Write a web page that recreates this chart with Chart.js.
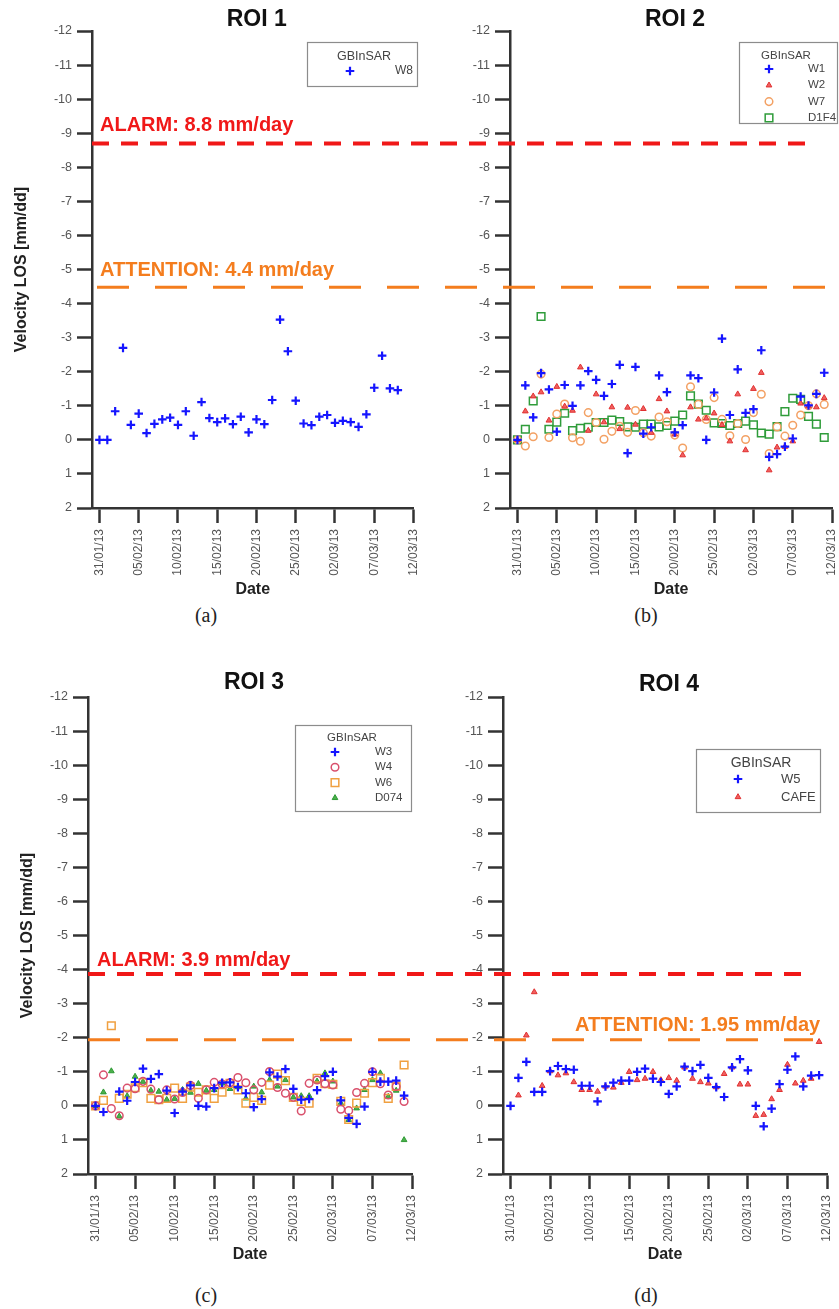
<!DOCTYPE html>
<html>
<head>
<meta charset="utf-8">
<script src="https://cdn.jsdelivr.net/npm/chart.js@4.4.1/dist/chart.umd.min.js"></script>
<style>
  html, body { margin: 0; padding: 0; background: #fff; }
  #page { position: relative; width: 839px; height: 1309px; overflow: hidden; background: #fff; }
  canvas { position: absolute; }
  .cap { position: absolute; font-family: "Liberation Serif", "DejaVu Serif", serif; font-size: 20px; color: #222;
         transform: translate(-50%, -50%); }
</style>
</head>
<body>
<div id="page">
  <canvas id="roi1" width="420" height="600" style="left:0;top:0"></canvas>
  <canvas id="roi2" width="419" height="600" style="left:420px;top:0"></canvas>
  <canvas id="roi3" width="420" height="620" style="left:0;top:650px"></canvas>
  <canvas id="roi4" width="419" height="620" style="left:420px;top:650px"></canvas>
  <div class="cap" style="left:206px;top:615px">(a)</div>
  <div class="cap" style="left:646px;top:615px">(b)</div>
  <div class="cap" style="left:206px;top:1295px">(c)</div>
  <div class="cap" style="left:646px;top:1295px">(d)</div>
</div>
<script>
// giorni dal 31/01/13 e relative etichette
const tickDays = [0, 5, 10, 15, 20, 25, 30, 35, 40];
const dateLabels = ["31/01/13", "05/02/13", "10/02/13", "15/02/13", "20/02/13",
                    "25/02/13", "02/03/13", "07/03/13", "12/03/13"];

// ROI 1
const roi1W8 = [0.0, 0.0, -0.84, -2.70, -0.44, -0.77, -0.20, -0.47, -0.60, -0.65,
                -0.44, -0.84, -0.12, -1.11, -0.64, -0.52, -0.63, -0.46, -0.68, -0.22,
                -0.60, -0.46, -1.17, -3.53, -2.60, -1.15, -0.48, -0.43, -0.68, -0.73,
                -0.50, -0.56, -0.52, -0.38, -0.75, -1.53, -2.47, -1.51, -1.46];

// ROI 2
const roi2W1 = [0.0, -1.60, -0.66, -1.96, -1.48, -0.24, -1.61, -1.00, -1.60, -2.02,
                -1.76, -1.29, -1.64, -2.20, 0.39, -2.14, -0.18, -0.37, -1.89, -1.40,
                -0.22, -0.43, -1.89, -1.81, 0.0, -1.39, -2.97, -0.73, -2.07, -0.79,
                -0.90, -2.63, 0.50, 0.42, 0.20, -0.04, -1.27, -1.01, -1.35, -1.97];
const roi2W2 = [0.0, -0.84, -1.28, -1.40, -0.57, -1.56, -0.98, -0.86, -2.13, -0.27,
                -1.34, -0.52, -0.96, -0.32, -0.95, -0.45, -0.91, -0.21, -1.20, -0.84,
                -0.16, 0.45, -0.96, -0.60, -0.63, -0.78, -0.44, 0.04, -1.34, 0.30,
                -1.50, -1.97, 0.89, 0.22, 0.20, 0.04, -1.07, -0.99, -0.96, -1.23];
const roi2W7 = [0.0, 0.18, -0.09, -1.93, -0.07, -0.76, -1.05, -0.06, 0.04, -0.80,
                -0.51, -0.02, -0.25, -0.40, -0.22, -0.86, -0.21, -0.11, -0.67, -0.53,
                -0.14, 0.24, -1.56, -1.04, -0.60, -1.24, -0.60, -0.12, -0.48, -0.01,
                -0.80, -1.34, 0.40, -0.38, -0.11, -0.43, -0.73, -1.00, -1.35, -1.04];
const roi2D1F4 = [0.0, -0.31, -1.14, -3.62, -0.31, -0.52, -0.78, -0.27, -0.34, -0.37,
                  -0.51, -0.51, -0.58, -0.54, -0.38, -0.37, -0.46, -0.46, -0.38, -0.42,
                  -0.55, -0.73, -1.29, -1.05, -0.87, -0.50, -0.48, -0.42, -0.48, -0.55,
                  -0.44, -0.20, -0.17, -0.39, -0.83, -1.22, -1.19, -0.69, -0.46, -0.07];

// ROI 3
const roi3W3 = [0.0, 0.18, null, -0.42, -0.15, -0.70, -1.09, -0.79, -0.93, -0.45,
                0.21, -0.42, -0.60, 0.0, 0.02, -0.52, -0.68, -0.69, -0.55, -0.37,
                0.04, -0.20, -0.98, -0.86, -1.08, -0.50, -0.18, -0.20, -0.46, -0.87,
                -1.00, -0.16, 0.35, 0.53, 0.02, -1.00, -0.71, -0.71, -0.74, -0.30];
const roi3W4 = [0.0, -0.91, 0.08, 0.29, -0.52, -0.50, -0.72, -0.49, -0.18, -0.47,
                -0.20, -0.39, -0.60, -0.22, -0.47, -0.69, -0.64, -0.68, -0.83, -0.68,
                -0.47, -0.69, -1.01, -0.54, -0.37, -0.25, 0.15, -0.66, -0.76, -0.65,
                -0.61, 0.10, 0.14, -0.39, -0.66, -1.00, -0.65, -0.32, -0.57, -0.13];
const roi3W6 = [0.0, -0.16, -2.35, -0.22, -0.34, -0.53, -0.68, -0.22, -0.18, -0.22,
                -0.52, -0.22, -0.55, -0.40, -0.47, -0.22, -0.40, -0.66, -0.47, -0.08,
                -0.25, -0.16, -0.61, -0.93, -0.74, -0.25, -0.13, -0.08, -0.81, -0.65,
                -0.63, -0.13, 0.40, -0.08, -0.37, -0.68, -0.81, -0.22, -0.57, -1.20];
const roi3D074 = [0.0, -0.40, -1.02, 0.31, -0.29, -0.86, -0.71, -0.45, -0.42, -0.18,
                  -0.21, -0.47, -0.39, -0.65, -0.45, -0.47, -0.66, -0.50, -0.55, -0.22,
                  -0.57, -0.40, -0.76, -0.57, -0.76, -0.25, -0.29, -0.29, -0.72, -0.96,
                  -0.72, -0.08, 0.41, 0.07, -0.47, -0.76, -0.96, -0.27, -0.45, 1.00];

// ROI 4
const roi4W5 = [0.0, -0.82, -1.29, -0.41, -0.41, -1.02, -1.17, -1.08, -1.06, -0.59,
                -0.59, -0.13, -0.57, -0.68, -0.74, -0.74, -1.00, -1.09, -0.80, -0.70,
                -0.35, -0.57, -1.15, -1.02, -1.20, -0.82, -0.55, -0.26, -1.13, -1.37,
                -1.04, 0.0, 0.60, 0.08, -0.64, -1.06, -1.45, -0.57, -0.89, -0.90];
const roi4CAFE = [null, -0.31, -2.07, -3.34, -0.59, -1.02, -0.90, -0.96, -0.70, -0.47,
                  -0.47, -0.42, -0.57, -0.54, -0.68, -1.00, -0.76, -0.80, -1.00, -0.76,
                  -0.82, -0.74, -1.13, -0.80, -0.70, -0.66, -0.55, -0.94, -1.13, -0.63,
                  -0.63, 0.29, 0.26, -0.20, -0.47, -1.21, -0.66, -0.74, -0.80, -1.88];

// soglie
const alarmRoi12 = -8.7, attentionRoi12 = -4.48;
const alarmRoi34 = -3.87, attentionRoi34 = -1.94;
const alarmText12 = "ALARM: 8.8 mm/day", attentionText12 = "ATTENTION: 4.4 mm/day";
const alarmText34 = "ALARM: 3.9 mm/day", attentionText34 = "ATTENTION: 1.95 mm/day";
const legendTitle = "GBInSAR";

const FONT = '"Liberation Sans", Arial, Helvetica, sans-serif';
Chart.defaults.font.family = FONT;

const RED = "#f01818", ORANGE = "#f47d1e";

const st = {
  cross:    { pointStyle: "cross", pointRadius: 4.3, pointBorderWidth: 2.2, pointBorderColor: "#1515ff", pointBackgroundColor: "#1515ff" },
  redTri:   { pointStyle: "triangle", pointRadius: 3.3, pointBorderWidth: 1, pointBorderColor: "#e03030", pointBackgroundColor: "#f06060" },
  orCircle: { pointStyle: "circle", pointRadius: 3.8, pointBorderWidth: 1.5, pointBorderColor: "#f3a164", pointBackgroundColor: "rgba(0,0,0,0)" },
  grSquare: { pointStyle: "rect", pointRadius: 5.4, pointBorderWidth: 1.5, pointBorderColor: "#2f9c3a", pointBackgroundColor: "rgba(0,0,0,0)" },
  pkCircle: { pointStyle: "circle", pointRadius: 3.8, pointBorderWidth: 1.5, pointBorderColor: "#d9506c", pointBackgroundColor: "rgba(0,0,0,0)" },
  orSquare: { pointStyle: "rect", pointRadius: 5.4, pointBorderWidth: 1.5, pointBorderColor: "#f0a040", pointBackgroundColor: "rgba(0,0,0,0)" },
  grTri:    { pointStyle: "triangle", pointRadius: 3.3, pointBorderWidth: 1, pointBorderColor: "#2f9a35", pointBackgroundColor: "#4bb04b" }
};

function serie(label, values, style) {
  return Object.assign({
    label: label,
    data: values.map((v, i) => ({ x: i, y: v })),
    showLine: false,
    pointHoverRadius: style.pointRadius
  }, style);
}

// linee di soglia, etichette, titolo e legenda a riquadro
const panelDecor = {
  id: "panelDecor",
  beforeDatasetsDraw(chart, args, o) {
    const ctx = chart.ctx, ys = chart.scales.y;
    (o.lines || []).forEach(l => {
      const py = ys.getPixelForValue(l.value);
      const period = l.dash[0] + l.dash[1];
      ctx.save();
      ctx.strokeStyle = l.color;
      ctx.lineWidth = l.width;
      ctx.setLineDash(l.dash);
      ctx.lineDashOffset = (((l.from - l.anchor) % period) + period) % period;
      ctx.beginPath();
      ctx.moveTo(l.from, py);
      ctx.lineTo(l.to, py);
      ctx.stroke();
      ctx.restore();
    });
  },
  afterDraw(chart, args, o) {
    const ctx = chart.ctx, ys = chart.scales.y, area = chart.chartArea;
    ctx.save();
    (o.labels || []).forEach(t => {
      ctx.font = "bold 20px " + FONT;
      ctx.fillStyle = t.color;
      ctx.textAlign = "left";
      ctx.textBaseline = "middle";
      ctx.fillText(t.text, area.left + t.dx, ys.getPixelForValue(t.value) + t.dy);
    });
    // titolo
    ctx.font = "bold 23px " + FONT;
    ctx.fillStyle = "#111";
    ctx.textAlign = "center";
    ctx.textBaseline = "middle";
    ctx.fillText(o.title, (area.left + area.right) / 2 + 4, o.titleY);
    // legenda
    const lg = o.legend;
    ctx.strokeStyle = "#8c8c8c";
    ctx.lineWidth = 1.2;
    ctx.strokeRect(lg.box[0] + 0.5, lg.box[1] + 0.5, lg.box[2], lg.box[3]);
    ctx.fillStyle = "#444";
    ctx.font = lg.titleSize + "px " + FONT;
    ctx.fillText(legendTitle, lg.titleX, lg.titleY);
    chart.data.datasets.forEach((ds, i) => {
      const yy = lg.rowY0 + i * lg.rowH;
      ctx.save();
      ctx.fillStyle = ds.pointBackgroundColor;
      ctx.strokeStyle = ds.pointBorderColor;
      ctx.lineWidth = ds.pointBorderWidth;
      Chart.helpers.drawPoint(ctx, { pointStyle: ds.pointStyle, radius: ds.pointRadius, rotation: 0, borderWidth: ds.pointBorderWidth }, lg.markerX, yy);
      ctx.restore();
      ctx.fillStyle = "#444";
      ctx.textAlign = "left";
      ctx.font = lg.labelSize + "px " + FONT;
      ctx.fillText(ds.label, lg.labelX, yy);
    });
    ctx.restore();
  }
};

function makePanel(id, p) {
  new Chart(document.getElementById(id), {
    type: "scatter",
    data: { datasets: p.datasets },
    plugins: [panelDecor],
    options: {
      responsive: false,
      animation: false,
      layout: { padding: p.padding },
      plugins: {
        legend: { display: false },
        tooltip: { enabled: false },
        panelDecor: p.decor
      },
      scales: {
        x: {
          type: "linear",
          min: -0.95,
          max: 40,
          afterBuildTicks: s => { s.ticks = tickDays.map(v => ({ value: v })); },
          afterFit: s => { s.height = p.xHeight; s.paddingLeft = 0; s.paddingRight = 0; },
          border: { display: true, color: "#333", width: 2.5 },
          grid: { drawOnChartArea: false, drawTicks: true, tickLength: 15, tickWidth: 2.5, tickColor: "#333" },
          ticks: {
            autoSkip: false, minRotation: 90, maxRotation: 90, padding: 6,
            color: "#555", font: { size: 12 },
            callback: v => dateLabels[tickDays.indexOf(v)]
          },
          title: { display: true, text: "Date", color: "#222", font: { size: 16, weight: "bold" },
                   padding: { top: 0, bottom: p.xTitlePad } }
        },
        y: {
          type: "linear",
          reverse: true,
          min: -12,
          max: 2,
          afterFit: s => { s.width = p.yWidth; s.paddingTop = 0; s.paddingBottom = 0; },
          border: { display: true, color: "#333", width: 2.5 },
          grid: { drawOnChartArea: false, drawTicks: true, tickLength: 15, tickWidth: 2.5, tickColor: "#333" },
          ticks: { stepSize: 1, padding: 5, color: "#555", font: { size: 12.5 } },
          title: { display: p.yTitle, text: "Velocity LOS [mm/dd]", color: "#222", font: { size: 16, weight: "bold" },
                   padding: { top: p.yTitlePad, bottom: 0 } }
        }
      }
    }
  });
}

const redLine = { color: RED, width: 4, dash: [17, 12] };
const orangeLine = { color: ORANGE, width: 3, dash: [32, 26] };

makePanel("roi1", {
  datasets: [serie("W8", roi1W8, st.cross)],
  padding: { top: 31, right: 4, left: 0, bottom: 0 },
  yWidth: 92, xHeight: 92, yTitle: true, yTitlePad: 12, xTitlePad: 1,
  decor: {
    title: "ROI 1", titleY: 20,
    lines: [Object.assign({ value: alarmRoi12, from: 92, to: 420, anchor: 92 }, redLine),
            Object.assign({ value: attentionRoi12, from: 92, to: 420, anchor: 97 }, orangeLine)],
    labels: [{ text: alarmText12, value: alarmRoi12, color: RED, dx: 8, dy: -18 },
             { text: attentionText12, value: attentionRoi12, color: ORANGE, dx: 8, dy: -17 }],
    legend: { box: [307, 42, 110, 44], titleX: 364, titleY: 57, titleSize: 12.5,
              markerX: 350, labelX: 395, rowY0: 71, rowH: 16, labelSize: 12 }
  }
});

makePanel("roi2", {
  datasets: [serie("W1", roi2W1, st.cross), serie("W2", roi2W2, st.redTri),
             serie("W7", roi2W7, st.orCircle), serie("D1F4", roi2D1F4, st.grSquare)],
  padding: { top: 31, right: 4, left: 0, bottom: 0 },
  yWidth: 90, xHeight: 92, yTitle: false, yTitlePad: 0, xTitlePad: 1,
  decor: {
    title: "ROI 2", titleY: 20,
    lines: [Object.assign({ value: alarmRoi12, from: 0, to: 390, anchor: -328 }, redLine),
            Object.assign({ value: attentionRoi12, from: 0, to: 405, anchor: -323 }, orangeLine)],
    labels: [],
    legend: { box: [319, 42, 98, 81], titleX: 366, titleY: 56, titleSize: 11.5,
              markerX: 349, labelX: 388, rowY0: 69, rowH: 16.3, labelSize: 11.5 }
  }
});

makePanel("roi3", {
  datasets: [serie("W3", roi3W3, st.cross), serie("W4", roi3W4, st.pkCircle),
             serie("W6", roi3W6, st.orSquare), serie("D074", roi3D074, st.grTri)],
  padding: { top: 47, right: 8, left: 0, bottom: 0 },
  yWidth: 88, xHeight: 96, yTitle: true, yTitlePad: 18, xTitlePad: 6,
  decor: {
    title: "ROI 3", titleY: 33,
    lines: [Object.assign({ value: alarmRoi34, from: 88, to: 420, anchor: 88 }, redLine),
            Object.assign({ value: attentionRoi34, from: 88, to: 420, anchor: 88 }, orangeLine)],
    labels: [{ text: alarmText34, value: alarmRoi34, color: RED, dx: 9, dy: -14 }],
    legend: { box: [295, 75, 116, 86], titleX: 352, titleY: 88, titleSize: 11.5,
              markerX: 335, labelX: 375, rowY0: 102, rowH: 15.3, labelSize: 11.5 }
  }
});

makePanel("roi4", {
  datasets: [serie("W5", roi4W5, st.cross), serie("CAFE", roi4CAFE, st.redTri)],
  padding: { top: 47, right: 12, left: 0, bottom: 0 },
  yWidth: 83, xHeight: 96, yTitle: false, yTitlePad: 0, xTitlePad: 6,
  decor: {
    title: "ROI 4", titleY: 35,
    lines: [Object.assign({ value: alarmRoi34, from: 0, to: 385, anchor: -332 }, redLine),
            Object.assign({ value: attentionRoi34, from: 0, to: 393, anchor: -332 }, orangeLine)],
    labels: [{ text: attentionText34, value: attentionRoi34, color: ORANGE, dx: 72, dy: -14 }],
    legend: { box: [276, 99, 124, 63], titleX: 341, titleY: 113, titleSize: 14,
              markerX: 318, labelX: 361, rowY0: 129, rowH: 18, labelSize: 13 }
  }
});
</script>
</body>
</html>
